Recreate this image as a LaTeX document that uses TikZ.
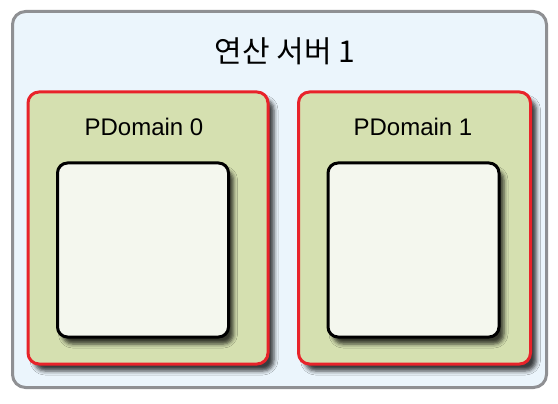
\documentclass[tikz,border=0pt]{standalone}
\usepackage{fontspec}
\setmainfont{Liberation Sans}
\newfontfamily\krfont{Noto Sans CJK KR}
\usetikzlibrary{positioning}
\usetikzlibrary{shadows.blur}
\definecolor{serverblue}{HTML}{EBF5FC}
\definecolor{servergray}{HTML}{8F9093}
\definecolor{domgreen}{HTML}{D5E0B0}
\definecolor{domred}{HTML}{E8232A}
\definecolor{cellwhite}{HTML}{F4F7EE}
\tikzset {
  % the whole server
  server/.style = {draw=servergray, fill=serverblue, line width=3pt,
    rounded corners=13pt, minimum width=534pt, minimum height=376pt},
  % physical domains
  pdomain/.style = {draw=domred, fill=domgreen, line width=3pt,
    rounded corners=11pt, minimum height=272pt,
    blur shadow={shadow xshift=6pt, shadow yshift=-7pt,
      shadow blur radius=4pt, shadow opacity=75}},
  % empty box inside a domain
  cell/.style = {draw=black, fill=cellwhite, line width=3pt,
    rounded corners=10pt, minimum width=171pt, minimum height=174pt,
    blur shadow={shadow xshift=5pt, shadow yshift=-7pt,
      shadow blur radius=4pt, shadow opacity=75}},
  title/.style = {font=\krfont\fontsize{30}{34}\selectfont},
  label/.style = {font=\fontsize{24}{28}\selectfont},
}
\begin{document}
\begin{tikzpicture}[x=1pt, y=-1pt]
  \useasboundingbox (0, 0) rectangle (558, 404);

  \node[server] (srv) at (279.5, 199.5) {};
  \node[title] (srvlabel) at (285, 51) {연산 서버 1};

  \node[pdomain, minimum width=240pt] (dom0) at (148, 228) {};
  \node[pdomain, minimum width=232pt] (dom1) at (414.5, 228) {};

  \node[label] (dom0label) at (144, 127) {PDomain 0};
  \node[label] (dom1label) at (413, 127) {PDomain 1};

  \node[cell] (cell0) at (143, 250) {};
  \node[cell] (cell1) at (413.5, 250) {};
\end{tikzpicture}
\end{document}
